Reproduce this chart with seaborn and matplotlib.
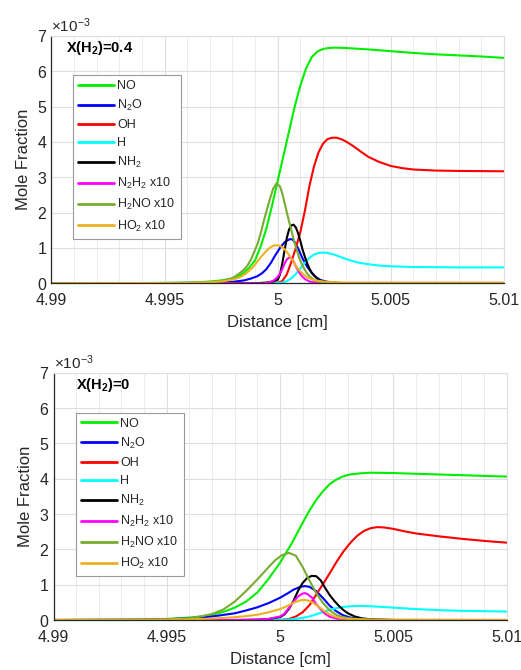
import numpy as np
import pandas as pd
import matplotlib
matplotlib.use("Agg")
import matplotlib.pyplot as plt
from matplotlib.ticker import MultipleLocator, FixedLocator, ScalarFormatter, FixedFormatter
import seaborn as sns

# ---------------- data (mole fraction in units of 1e-3) ----------------
species = ["NO", "N$_2$O", "OH", "H", "NH$_2$", "N$_2$H$_2$ x10", "H$_2$NO x10", "HO$_2$ x10"]
colors = ["#00ee00", "#0000ff", "#ff0000", "#00ffff", "#000000", "#ff00ff", "#77ac30", "#edb120"]

xticks = [4.99, 4.995, 5.0, 5.005, 5.01]
xticklabels = ["4.99", "4.995", "5", "5.005", "5.01"]
yticks = [0, 1, 2, 3, 4, 5, 6, 7]

# ---- X(H2)=0.4 ----
a_NO_x = [4.99, 4.994, 4.995, 4.996, 4.9965, 4.997, 4.9975, 4.998, 4.99825, 4.9985, 4.99875, 4.999,
          4.99925, 4.9995, 4.99975, 5.0, 5.00025, 5.0005, 5.00075, 5.001, 5.00125, 5.0015, 5.00175,
          5.002, 5.00225, 5.0025, 5.003, 5.0035, 5.004, 5.005, 5.006, 5.007, 5.008, 5.009, 5.01]
a_NO_y = [0.0, 0.005, 0.01, 0.02, 0.03, 0.05, 0.08, 0.13, 0.19, 0.3, 0.45, 0.65,
          1.05, 1.55, 2.2, 2.9, 3.6, 4.3, 5.0, 5.6, 6.08, 6.4, 6.56,
          6.63, 6.66, 6.67, 6.66, 6.64, 6.62, 6.57, 6.52, 6.48, 6.45, 6.42, 6.38]
a_N2O_x = [4.99, 4.997, 4.998, 4.9985, 4.9988, 4.9991, 4.9993, 4.9995, 4.9997, 4.9999, 5.0001, 5.0003,
           5.0005, 5.0006, 5.0007, 5.0009, 5.0011, 5.0013, 5.0015, 5.0017, 5.0019, 5.0022, 5.0027,
           5.003, 5.01]
a_N2O_y = [0.0, 0.01, 0.04, 0.08, 0.13, 0.2, 0.28, 0.4, 0.58, 0.8, 1.0, 1.16,
           1.24, 1.25, 1.22, 0.99, 0.7, 0.47, 0.3, 0.17, 0.09, 0.04, 0.01,
           0.0, 0.0]
a_OH_x = [4.99, 4.9995, 5.0, 5.0002, 5.0004, 5.0006, 5.0008, 5.001, 5.0012, 5.0014, 5.0016, 5.0018,
          5.002, 5.0022, 5.0024, 5.0026, 5.0028, 5.003, 5.0033, 5.0036, 5.004, 5.0045, 5.005, 5.0055,
          5.006, 5.007, 5.008, 5.01]
a_OH_y = [0.0, 0.0, 0.02, 0.06, 0.25, 0.6, 1.0, 1.45, 2.05, 2.75, 3.3, 3.7,
          3.95, 4.08, 4.12, 4.12, 4.08, 4.02, 3.9, 3.76, 3.58, 3.43, 3.32, 3.26,
          3.22, 3.19, 3.18, 3.17]
a_H_x = [4.99, 4.9997, 5.0002, 5.0004, 5.0006, 5.0008, 5.001, 5.0012, 5.0014, 5.0016, 5.0018, 5.002,
         5.0022, 5.0025, 5.0028, 5.003, 5.0033, 5.0036, 5.004, 5.0045, 5.005, 5.006, 5.008, 5.01]
a_H_y = [0.0, 0.0, 0.02, 0.06, 0.14, 0.26, 0.42, 0.58, 0.72, 0.81, 0.86, 0.87,
         0.86, 0.81, 0.74, 0.69, 0.63, 0.58, 0.54, 0.5, 0.48, 0.46, 0.45, 0.45]
a_NH2_x = [4.99, 4.999, 4.9995, 4.9998, 5.0, 5.0001, 5.0002, 5.0003, 5.0004, 5.0005, 5.0006, 5.0007,
           5.0008, 5.0009, 5.001, 5.0011, 5.0012, 5.0013, 5.0014, 5.0015, 5.0016, 5.0018, 5.002,
           5.0025, 5.003, 5.01]
a_NH2_y = [0.0, 0.0, 0.02, 0.05, 0.1, 0.25, 0.55, 0.92, 1.28, 1.52, 1.64, 1.66,
           1.58, 1.42, 1.2, 0.95, 0.75, 0.57, 0.42, 0.3, 0.22, 0.1, 0.05,
           0.01, 0.0, 0.0]
a_N2H2_x = [4.99, 4.9994, 4.9996, 4.9998, 5.0, 5.0001, 5.0002, 5.0003, 5.0004, 5.0005, 5.0006, 5.0007,
            5.0008, 5.0009, 5.001, 5.0011, 5.0012, 5.0014, 5.0017, 5.002, 5.01]
a_N2H2_y = [0.0, 0.0, 0.02, 0.07, 0.18, 0.28, 0.4, 0.55, 0.67, 0.73, 0.72, 0.62,
            0.48, 0.36, 0.26, 0.18, 0.12, 0.05, 0.02, 0.0, 0.0]
a_H2NO_x = [4.99, 4.996, 4.9965, 4.997, 4.9975, 4.998, 4.99825, 4.9985, 4.99865, 4.9988, 4.99895,
            4.9991, 4.99925, 4.9994, 4.99955, 4.9997, 4.9998, 4.99995, 5.0001, 5.0002, 5.00035, 5.0005,
            5.00065, 5.0008, 5.00095, 5.0011, 5.00125, 5.0014, 5.0016, 5.0018, 5.002, 5.0025, 5.003,
            5.01]
a_H2NO_y = [0.0, 0.01, 0.02, 0.03, 0.06, 0.15, 0.25, 0.38, 0.49, 0.65, 0.87,
            1.1, 1.42, 1.8, 2.15, 2.48, 2.68, 2.83, 2.74, 2.55, 2.15, 1.75,
            1.38, 1.03, 0.72, 0.5, 0.32, 0.2, 0.1, 0.05, 0.03, 0.01, 0.0,
            0.0]
a_HO2_x = [4.99, 4.996, 4.997, 4.9975, 4.998, 4.9983, 4.9986, 4.9989, 4.9992, 4.9995, 4.9997, 4.9999,
           5.0001, 5.0003, 5.0005, 5.0007, 5.0009, 5.0011, 5.0013, 5.0016, 5.002, 5.0025, 5.003, 5.01]
a_HO2_y = [0.0, 0.01, 0.03, 0.05, 0.1, 0.16, 0.28, 0.45, 0.7, 0.92, 1.03, 1.08,
           1.06, 0.97, 0.8, 0.6, 0.4, 0.27, 0.17, 0.09, 0.05, 0.03, 0.02, 0.02]

# ---- X(H2)=0 ----
b_NO_x = [4.99, 4.993, 4.994, 4.995, 4.996, 4.9965, 4.997, 4.9975, 4.998, 4.9985, 4.999, 4.9995,
          5.0, 5.0005, 5.001, 5.0013, 5.0016, 5.0019, 5.0022, 5.0025, 5.0028, 5.0031, 5.0035, 5.004,
          5.005, 5.006, 5.007, 5.008, 5.009, 5.01]
b_NO_y = [0.0, 0.005, 0.015, 0.03, 0.07, 0.1, 0.15, 0.23, 0.35, 0.52, 0.78, 1.17,
          1.62, 2.15, 2.75, 3.1, 3.4, 3.65, 3.85, 3.98, 4.07, 4.12, 4.15, 4.17,
          4.16, 4.14, 4.12, 4.10, 4.08, 4.06]
b_N2O_x = [4.99, 4.994, 4.995, 4.996, 4.997, 4.998, 4.9985, 4.999, 4.9995, 5.0, 5.0003, 5.0006,
           5.0009, 5.0011, 5.0013, 5.0016, 5.0019, 5.0022, 5.0025, 5.0028, 5.0031, 5.0035, 5.004,
           5.005, 5.01]
b_N2O_y = [0.0, 0.01, 0.02, 0.05, 0.1, 0.19, 0.27, 0.36, 0.48, 0.63, 0.74, 0.86,
           0.94, 0.96, 0.94, 0.82, 0.62, 0.4, 0.24, 0.13, 0.07, 0.03, 0.01,
           0.0, 0.0]
b_OH_x = [4.99, 5.0, 5.0004, 5.0007, 5.001, 5.0013, 5.0016, 5.0019, 5.0022, 5.0025, 5.0028, 5.0031,
          5.0034, 5.0037, 5.004, 5.0043, 5.0046, 5.005, 5.0055, 5.006, 5.007, 5.008, 5.009, 5.01]
b_OH_y = [0.0, 0.0, 0.03, 0.1, 0.22, 0.42, 0.72, 1.02, 1.33, 1.65, 1.94, 2.18,
          2.38, 2.52, 2.6, 2.63, 2.62, 2.58, 2.51, 2.45, 2.37, 2.3, 2.24, 2.19]
b_H_x = [4.99, 5.0, 5.0005, 5.001, 5.0013, 5.0016, 5.0019, 5.0022, 5.0025, 5.0028, 5.0031, 5.0035,
         5.004, 5.0045, 5.005, 5.006, 5.007, 5.008, 5.009, 5.01]
b_H_y = [0.0, 0.0, 0.02, 0.06, 0.1, 0.16, 0.23, 0.29, 0.34, 0.37, 0.39, 0.4,
         0.39, 0.37, 0.35, 0.31, 0.28, 0.26, 0.25, 0.24]
b_NH2_x = [4.99, 4.998, 4.999, 4.9995, 5.0, 5.0002, 5.0004, 5.0006, 5.0008, 5.001, 5.0012, 5.0014,
           5.0016, 5.0018, 5.002, 5.0022, 5.0024, 5.0026, 5.0028, 5.003, 5.0033, 5.0036, 5.004,
           5.005, 5.01]
b_NH2_y = [0.0, 0.0, 0.01, 0.03, 0.08, 0.16, 0.32, 0.55, 0.83, 1.05, 1.19, 1.25,
           1.24, 1.12, 0.9, 0.7, 0.54, 0.4, 0.28, 0.19, 0.1, 0.05, 0.02,
           0.0, 0.0]
b_N2H2_x = [4.99, 4.998, 4.999, 4.9995, 5.0, 5.0002, 5.0004, 5.0006, 5.0008, 5.001, 5.0011, 5.0012,
            5.0014, 5.0016, 5.0018, 5.002, 5.0022, 5.0025, 5.003, 5.004, 5.01]
b_N2H2_y = [0.0, 0.0, 0.01, 0.03, 0.1, 0.18, 0.35, 0.52, 0.67, 0.75, 0.76, 0.74,
            0.64, 0.45, 0.3, 0.17, 0.09, 0.04, 0.01, 0.0, 0.0]
b_H2NO_x = [4.99, 4.994, 4.995, 4.996, 4.9965, 4.997, 4.9975, 4.998, 4.9985, 4.999, 4.9995, 4.9998,
            5.0001, 5.0004, 5.0007, 5.001, 5.0013, 5.0016, 5.0019, 5.0022, 5.0025, 5.0028, 5.0032,
            5.004, 5.005, 5.01]
b_H2NO_y = [0.0, 0.01, 0.02, 0.05, 0.1, 0.17, 0.3, 0.52, 0.82, 1.15, 1.5, 1.7,
            1.84, 1.9, 1.82, 1.5, 1.12, 0.76, 0.48, 0.27, 0.14, 0.08, 0.04,
            0.01, 0.0, 0.0]
b_HO2_x = [4.99, 4.995, 4.996, 4.997, 4.998, 4.9985, 4.999, 4.9995, 5.0, 5.0003, 5.0006, 5.0009,
           5.0011, 5.0013, 5.0015, 5.0017, 5.0019, 5.0021, 5.0024, 5.0027, 5.003, 5.004, 5.01]
b_HO2_y = [0.0, 0.01, 0.02, 0.04, 0.08, 0.11, 0.15, 0.22, 0.31, 0.39, 0.49, 0.56,
           0.57, 0.54, 0.47, 0.38, 0.28, 0.19, 0.1, 0.05, 0.03, 0.01, 0.0]

panel_a = [(a_NO_x, a_NO_y), (a_N2O_x, a_N2O_y), (a_OH_x, a_OH_y), (a_H_x, a_H_y),
           (a_NH2_x, a_NH2_y), (a_N2H2_x, a_N2H2_y), (a_H2NO_x, a_H2NO_y), (a_HO2_x, a_HO2_y)]
panel_b = [(b_NO_x, b_NO_y), (b_N2O_x, b_N2O_y), (b_OH_x, b_OH_y), (b_H_x, b_H_y),
           (b_NH2_x, b_NH2_y), (b_N2H2_x, b_N2H2_y), (b_H2NO_x, b_H2NO_y), (b_HO2_x, b_HO2_y)]
titles = ["X(H$_2$)=0.4", "X(H$_2$)=0"]


def make_df(panel):
    rows = []
    for name, (xs, ys) in zip(species, panel):
        for xv, yv in zip(xs, ys):
            rows.append((xv, yv * 1e-3, name))
    return pd.DataFrame(rows, columns=["Distance", "Mole Fraction", "Species"])


sns.set_theme(style="white")
plt.rcParams["font.family"] = ["Liberation Sans", "DejaVu Sans"]
plt.rcParams["mathtext.default"] = "regular"

fig = plt.figure(figsize=(5.21, 6.70), dpi=100)
ax_pos = [[0.0988, 0.5772, 0.8685, 0.3691], [0.1027, 0.0746, 0.8695, 0.3691]]
leg_anchor = [(0.0475, 0.842), (0.0497, 0.838)]
title_pos = [(0.032, 0.951), (0.05, 0.95)]

dark = "#262626"
for i, panel in enumerate([panel_a, panel_b]):
    ax = fig.add_axes(ax_pos[i])
    df = make_df(panel)
    sns.lineplot(data=df, x="Distance", y="Mole Fraction", hue="Species", hue_order=species,
                 palette=colors, estimator=None, sort=False, linewidth=1.5, ax=ax, legend=True)
    handles, labels = ax.get_legend_handles_labels()
    ax.get_legend().remove()
    leg = ax.legend(handles, labels, loc="upper left", bbox_to_anchor=leg_anchor[i],
                    borderaxespad=0, fontsize=9, frameon=True, fancybox=False, framealpha=1,
                    edgecolor="#9a9a9a", handlelength=2.9, handletextpad=0.25,
                    labelspacing=0.48, borderpad=0.4)
    leg.get_frame().set_linewidth(0.8)
    for lh in leg.get_lines():
        lh.set_linewidth(2.0)

    ax.set_xlim(4.99, 5.01)
    ax.set_ylim(0, 7e-3)
    ax.xaxis.set_major_locator(FixedLocator(xticks))
    ax.xaxis.set_major_formatter(FixedFormatter(xticklabels))
    ax.xaxis.set_minor_locator(MultipleLocator(0.001))
    ax.yaxis.set_major_locator(FixedLocator([v * 1e-3 for v in yticks]))
    fmt = ScalarFormatter(useMathText=True)
    fmt.set_powerlimits((-2, 2))
    ax.yaxis.set_major_formatter(fmt)
    ax.yaxis.get_offset_text().set_fontsize(11)
    ax.yaxis.get_offset_text().set_color("#555555")

    ax.grid(True, which="major", color="#dedede", linewidth=0.8)
    ax.grid(True, which="minor", axis="x", color="#ececec", linewidth=0.7)
    ax.set_axisbelow(True)
    ax.tick_params(axis="both", which="major", direction="in", length=4, width=0.8,
                   labelsize=11.5, colors=dark)
    ax.tick_params(axis="x", which="major", pad=7)
    ax.tick_params(axis="y", which="major", pad=3)
    ax.tick_params(axis="both", which="minor", length=0)
    for s in ["left", "bottom"]:
        ax.spines[s].set_color(dark)
        ax.spines[s].set_linewidth(0.9)
    for s in ["top", "right"]:
        ax.spines[s].set_color("#dedede")
        ax.spines[s].set_linewidth(0.8)
    ax.set_xlabel("Distance [cm]", fontsize=12, color=dark, labelpad=5)
    ax.set_ylabel("Mole Fraction", fontsize=12, color=dark, labelpad=4)
    ax.text(title_pos[i][0], title_pos[i][1], titles[i], transform=ax.transAxes,
            fontsize=10.5, fontweight="bold", ha="left", va="center", color="black")

fig.savefig("out.png", dpi=100)
